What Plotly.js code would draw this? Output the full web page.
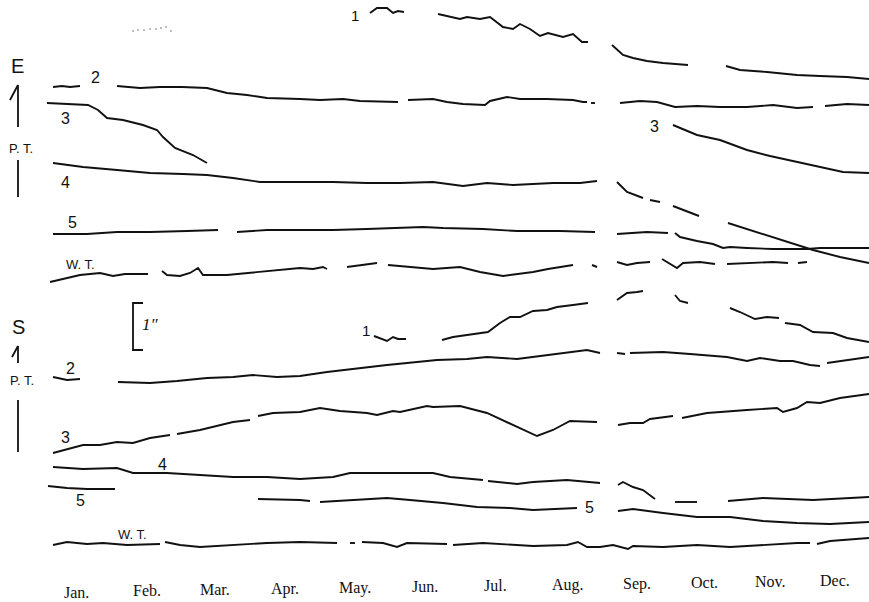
<!DOCTYPE html>
<html><head><meta charset="utf-8">
<script src="https://cdn.plot.ly/plotly-3.0.1.min.js"></script>
<style>html,body{margin:0;padding:0;background:#fff;}#chart{width:869px;height:602px;}</style>
</head><body><div id="chart"></div>
<script>
// Month tick labels and their horizontal positions (same units as trace x)
const months = ["Jan.","Feb.","Mar.","Apr.","May.","Jun.","Jul.","Aug.","Sep.","Oct.","Nov.","Dec."];
const monthX = [76,147,215,285,355,425,495,568,637,704,770,835];

// ---- E component (upper panel); y = trace position (down = larger) ----
const e1x = [370,377,387,393,398,404,null,438,460,467,480,490,503,513,520,530,540,548,563,573,582,588,null,612,623,633,647,663,677,688,null,726,740,767,797,820,847,869];
const e1y = [13,8,8,13,11,12,null,14,19,17,19,17,27,29,24,29,36,33,37,34,42,42,null,45,55,58,61,63,64,65,null,66,70,72,75,76,77,79];
const e2x = [53,62,70,80,null,117,140,160,182,207,227,247,267,300,320,343,360,398,null,408,433,447,463,485,490,507,520,547,573,583,587,null,591,595,null,620,640,657,675,697,720,747,773,797,813,null,825,847,869];
const e2y = [87,86,87,86,null,86,88,87,87,88,93,95,98,99,100,99,101,102,null,100,99,102,104,105,101,97,99,99,100,102,102,null,103,103,null,103,101,102,107,106,107,107,105,108,107,null,106,104,105];
const e3x = [47,67,88,98,107,123,143,157,163,175,180,193,207,null,673,697,720,747,770,797,820,843,869];
const e3y = [103,104,105,110,118,120,125,130,137,148,150,155,163,null,125,135,140,150,156,162,167,172,173];
const e4x = [53,83,117,150,183,207,233,260,300,333,367,400,433,463,487,513,553,580,597,null,617,627,643,null,650,660,null,673,699,null,728,760,787,813,840,869];
const e4y = [163,167,170,173,174,175,178,182,182,182,183,183,182,186,183,185,183,183,181,null,182,192,198,null,200,202,null,206,216,null,223,233,242,250,257,263];
const e5x = [53,87,117,150,187,218,null,237,267,300,333,367,423,443,483,517,560,595,null,617,647,668,null,675,680,697,713,723,730,747,773,807,820,869];
const e5y = [234,234,232,232,231,230,null,232,230,230,230,229,227,228,229,231,231,232,null,234,232,233,null,233,237,241,244,248,247,248,249,249,248,248];
const ewx = [50,67,80,100,113,125,148,null,162,167,180,190,198,203,227,260,300,313,323,327,null,347,377,null,388,433,460,480,503,533,548,573,null,592,597,null,617,627,637,650,null,662,677,683,700,715,null,727,747,773,788,null,798,807];
const ewy = [282,278,275,273,276,274,274,null,271,275,276,273,268,275,275,272,268,269,267,269,null,267,263,null,265,269,267,272,276,272,269,265,null,265,267,null,262,265,263,262,null,259,268,263,262,264,null,264,263,262,263,null,263,262];

// ---- S component (lower panel) ----
const s1x = [374,387,393,398,406,null,442,453,467,480,488,500,510,520,533,547,557,573,588,null,617,627,637,643,null,675,680,688,null,730,740,755,767,779,null,785,800,813,833,847,869];
const s1y = [336,341,337,339,339,null,340,337,335,333,332,323,317,317,311,310,307,305,303,null,300,293,292,291,null,295,301,303,null,308,312,319,317,318,null,323,325,332,333,338,342];
const s2x = [53,67,80,null,118,150,177,207,233,253,277,300,327,343,367,387,417,437,467,487,517,533,553,587,600,null,617,625,null,630,663,690,727,747,760,780,793,810,820,null,827,847,869];
const s2y = [377,380,379,null,382,383,381,378,377,375,377,376,372,370,367,365,362,360,359,357,359,357,354,350,353,null,353,354,null,353,352,354,357,361,358,361,361,365,366,null,363,360,357];
const s3x = [53,83,100,117,133,150,170,null,177,200,233,250,null,258,273,300,320,340,367,377,393,400,427,433,460,487,507,523,537,553,570,597,null,618,630,643,650,673,null,682,707,747,777,783,797,807,820,840,869];
const s3y = [453,445,445,442,443,438,435,null,434,430,422,420,null,416,413,412,408,411,413,415,411,412,406,407,406,413,422,430,436,430,421,422,null,425,423,423,419,416,null,418,413,410,408,412,408,402,403,398,394];
const s4x = [53,83,117,133,167,200,233,267,300,333,350,383,433,450,483,null,488,517,533,567,600,null,618,623,633,643,655,null,675,697,null,728,763,813,869];
const s4y = [467,469,468,473,473,475,477,477,479,477,473,473,473,477,480,null,481,484,482,480,483,null,485,482,487,490,499,null,502,502,null,501,498,500,497];
const s5x = [48,67,87,115,null,258,300,310,null,320,350,387,410,443,477,510,533,577,null,618,633,663,697,730,763,797,830,869];
const s5y = [486,488,489,489,null,499,500,501,null,502,500,498,500,503,507,508,510,508,null,511,509,513,517,517,521,523,524,522];
const swx = [53,67,87,103,127,150,160,null,165,180,200,233,267,300,333,337,null,350,355,null,362,383,397,407,447,null,453,483,533,567,578,587,600,613,628,633,663,697,730,763,797,810,null,817,830,869];
const swy = [545,542,544,543,545,544,544,null,542,545,547,545,543,542,543,543,null,543,543,null,542,543,547,543,544,null,545,543,546,545,542,547,547,545,549,546,547,545,547,545,543,543,null,544,541,538];

// faint smudge near top-left of the scan
const smx = [133,138,144,150,156,161,166,171];
const smy = [31,30,30,29,29,28,27,31];

const series = [[e1x,e1y],[e2x,e2y],[e3x,e3y],[e4x,e4y],[e5x,e5y],[ewx,ewy],
                [s1x,s1y],[s2x,s2y],[s3x,s3y],[s4x,s4y],[s5x,s5y],[swx,swy]];

const traces = series.map(([x,y]) => ({
  x, y, type:'scatter', mode:'lines', connectgaps:false, hoverinfo:'skip',
  line:{color:'#111', width:1.9}
}));
traces.push({x:smx, y:smy, type:'scatter', mode:'markers', hoverinfo:'skip',
  marker:{color:'#aaa', size:2}});

const sans = 'Liberation Sans, Arial, sans-serif';
const serif = 'Liberation Serif, Times New Roman, serif';
function lab(text, x, y, size, fam, extra) {
  return Object.assign({text, x, y, xref:'x', yref:'y', showarrow:false,
    xanchor:'center', yanchor:'middle', font:{family:fam||sans, size:size||15, color:'#111'}}, extra||{});
}
const ann = [
  lab('E',17,66,20), lab('P. T.',21,148,13), lab('S',18,327,20), lab('P. T.',22,380,13),
  lab('2',95,77,16), lab('3',65,118,16), lab('4',65,182,16), lab('5',72,222,16), lab('W. T.',80,264,13),
  lab('1',355,15,15), lab('3',654,126,16),
  lab('1',366,330,15), lab('2',70,368,16), lab('3',65,437,16), lab('4',162,464,16),
  lab('5',80,500,16), lab('5',589,507,16), lab('W. T.',132,534,13),
  lab('<i>1\u2033</i>',150,324,17,serif)
];
months.forEach((m,i) => {
  ann.push(lab(m, monthX[i], 592 - (monthX[i]-76)*0.015, 16, serif));
});

const ln = (x0,y0,x1,y1) => ({type:'line', xref:'x', yref:'y', x0,y0,x1,y1, line:{color:'#111', width:1.8}});
const shapes = [
  ln(18,85,18,127), ln(10,100,18,85), ln(18,160,18,197),
  ln(18,346,18,363), ln(12,357,18,346), ln(18,400,18,452),
  {type:'path', xref:'x', yref:'y', path:'M 143 303 L 133 303 L 133 350 L 143 350', line:{color:'#111', width:1.8}}
];

const layout = {
  width:869, height:602, margin:{l:0,r:0,t:0,b:0},
  paper_bgcolor:'#fff', plot_bgcolor:'#fff', showlegend:false,
  xaxis:{range:[0,869], visible:false, fixedrange:true},
  yaxis:{range:[602,0], visible:false, fixedrange:true},
  annotations:ann, shapes:shapes
};
Plotly.newPlot('chart', traces, layout, {staticPlot:true, displayModeBar:false});
</script>
</body></html>
